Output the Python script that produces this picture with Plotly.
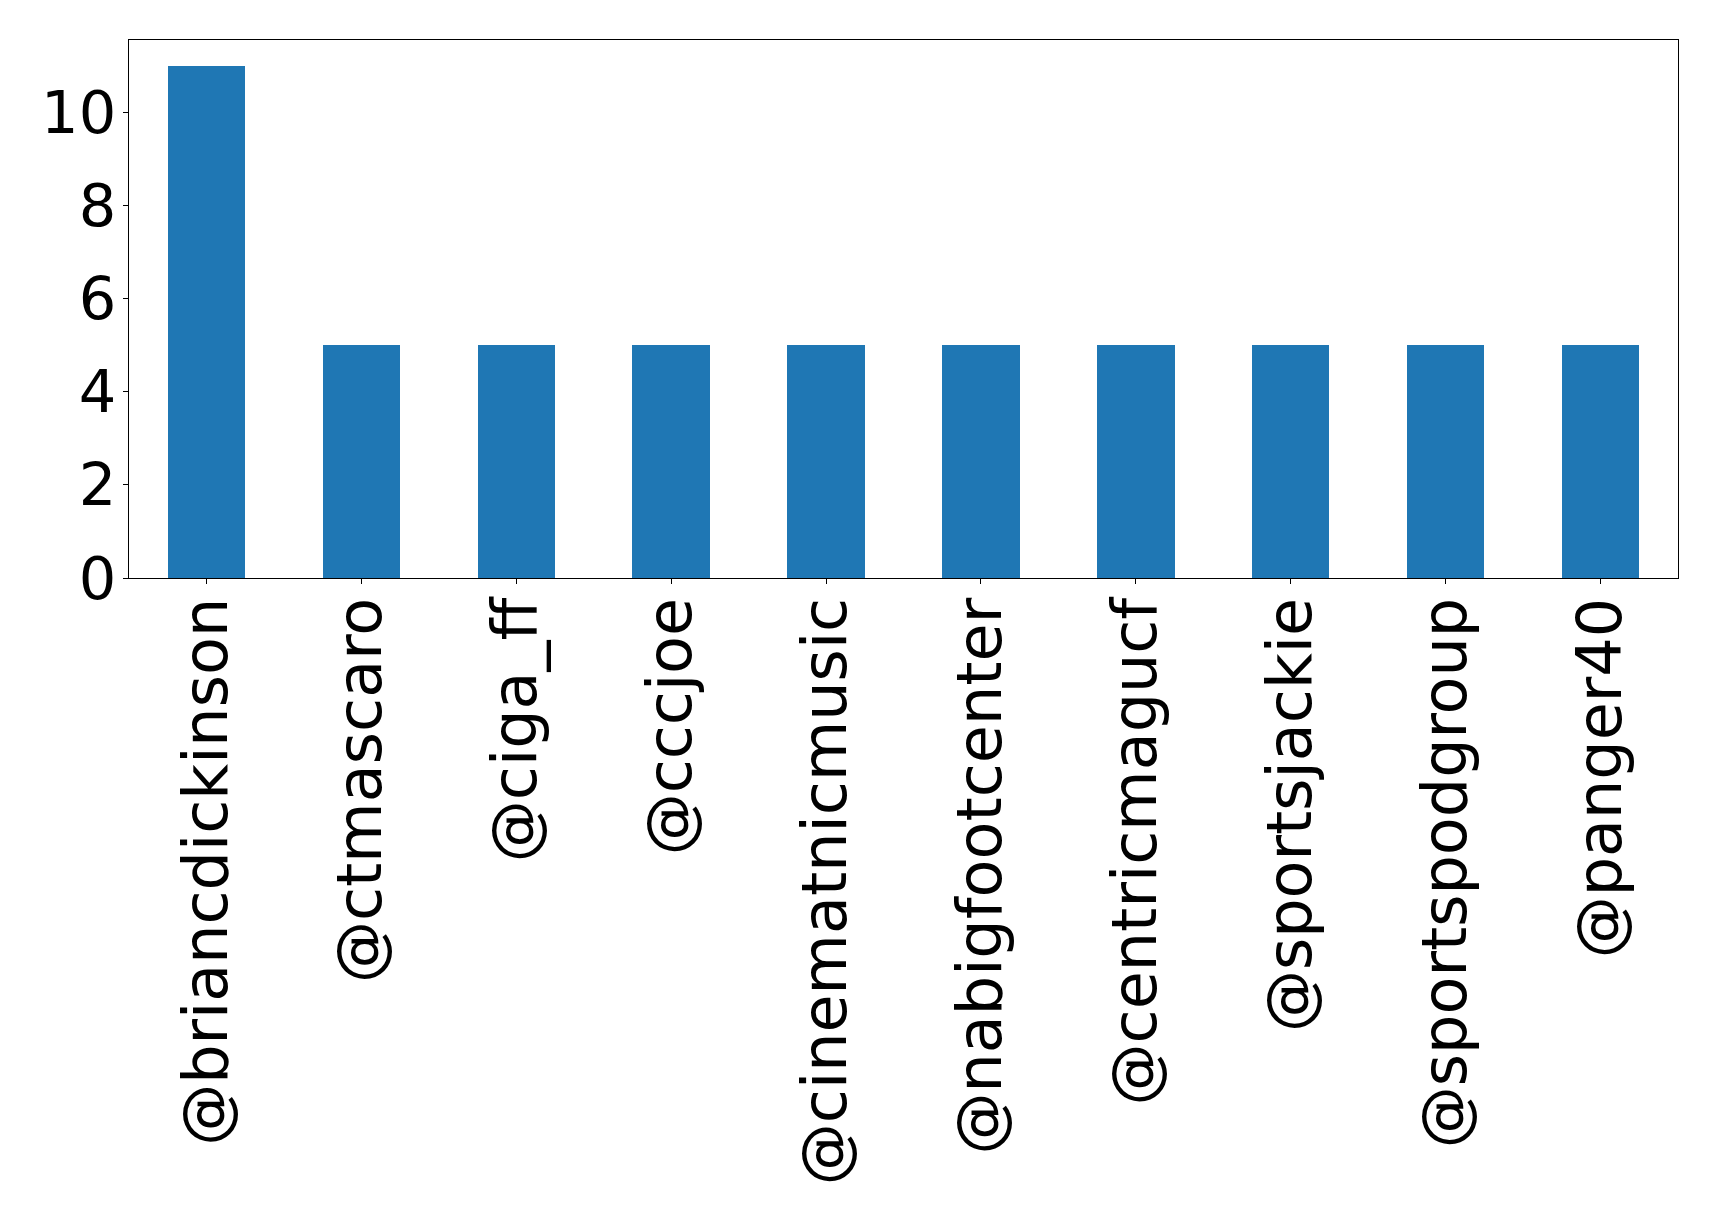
import plotly.graph_objects as go

users = ["@briancdickinson", "@ctmascaro", "@ciga_ff", "@cccjoe", "@cinematnicmusic",
         "@nabigfootcenter", "@centricmagucf", "@sportsjackie", "@sportspodgroup", "@panger40"]
counts = [11, 5, 5, 5, 5, 5, 5, 5, 5, 5]
y_ticks = [0, 2, 4, 6, 8, 10]

xpos = list(range(len(users)))

fig = go.Figure(go.Bar(x=xpos, y=counts, width=0.5, marker=dict(color="#1f77b4", line=dict(width=0))))

xfont = dict(family="DejaVu Sans", size=62, color="black")
yfont = dict(family="DejaVu Sans", size=59, color="black")
fig.update_layout(
    width=1719, height=1220,
    margin=dict(l=121, r=49, t=32, b=650, autoexpand=False),
    paper_bgcolor="white", plot_bgcolor="white",
    showlegend=False,
    font=xfont,
    bargap=0,
)
fig.update_xaxes(
    range=[-0.5, len(users) - 0.5],
    tickmode="array", tickvals=xpos, ticktext=users, tickangle=-90,
    ticks="outside", ticklen=5, tickwidth=1, tickcolor="black",
    showline=True, linecolor="black", linewidth=1, mirror=True,
    showgrid=False, zeroline=False, tickfont=xfont, ticklabelstandoff=-11,
)
fig.update_yaxes(
    range=[0, 11.55],
    tickmode="array", tickvals=y_ticks, ticktext=[str(v) for v in y_ticks],
    ticks="outside", ticklen=5, tickwidth=1, tickcolor="black",
    showline=True, linecolor="black", linewidth=1, mirror=True,
    showgrid=False, zeroline=False, tickfont=yfont, ticklabelstandoff=-5,
)
fig.write_html("out.html")
